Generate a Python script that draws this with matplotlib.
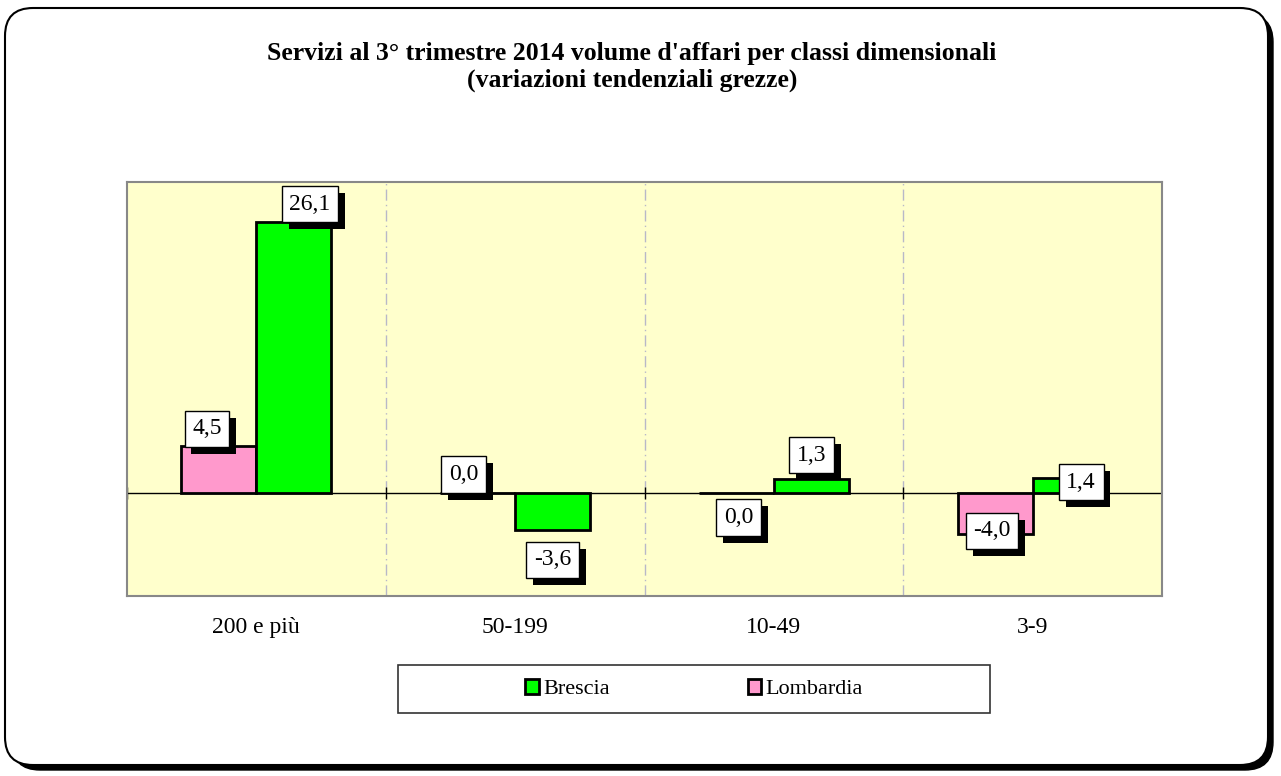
import matplotlib.pyplot as plt
import matplotlib.patheffects as pe
from matplotlib.patches import FancyBboxPatch, Rectangle
import numpy as np

plt.rcParams['font.family'] = ['Liberation Serif', 'DejaVu Serif']

categories = ["200 e più", "50-199", "10-49", "3-9"]
brescia = [26.1, -3.6, 1.3, 1.4]
lombardia = [4.5, 0.0, 0.0, -4.0]

title = "Servizi al 3° trimestre 2014 volume d'affari per classi dimensionali\n(variazioni tendenziali grezze)"

GREEN = "#00FF00"
PINK = "#FF99CC"
BG = "#FFFFCC"

# label offsets in pixels (dx, dy) from the bar end
lomb_off = [(-12, 17), (-14, 18), (2, -25), (-3, 3)]
bres_off = [(16, 18), (0, -30), (0, 24), (11, -4)]

fig = plt.figure(figsize=(12.81, 7.76), dpi=100)

# background frame in pixel coordinates
bg = fig.add_axes([0, 0, 1, 1], zorder=-10)
bg.set_xlim(0, 1281)
bg.set_ylim(776, 0)
bg.axis("off")
shadow = FancyBboxPatch((12, 14), 1261, 756, boxstyle="round,pad=0,rounding_size=28",
                        facecolor="black", edgecolor="black", lw=1)
bg.add_patch(shadow)
frame = FancyBboxPatch((5, 8), 1263, 757, boxstyle="round,pad=0,rounding_size=28",
                       facecolor="white", edgecolor="black", lw=1.5)
bg.add_patch(frame)
# legend box
bg.add_patch(Rectangle((398, 665), 592, 48, facecolor="white", edgecolor="#333333", lw=1.2))

ax = fig.add_axes([127 / 1281, 180 / 776, 1035 / 1281, 414 / 776])
ax.set_facecolor(BG)

x = np.arange(len(categories))
w = 0.29
b1 = ax.bar(x - w / 2, lombardia, w, color=PINK, edgecolor="black", lw=2, label="Lombardia", zorder=3)
b2 = ax.bar(x + w / 2, brescia, w, color=GREEN, edgecolor="black", lw=2, label="Brescia", zorder=3)

ax.axhline(0, color="black", lw=1, zorder=2)
for xb in [0.5, 1.5, 2.5]:
    ax.axvline(xb, color="#B8B8C8", lw=1, ls=(0, (8, 3, 1, 3)), zorder=1)
ax.plot([-0.5, 0.5, 1.5, 2.5, 3.5], [0] * 5, ls="none", marker="|", ms=8, color="black", zorder=2)

ax.set_xlim(-0.5, 3.5)
ax.set_ylim(-10, 30)
ax.set_yticks([])
ax.set_xticks(x)
ax.set_xticklabels(categories, fontsize=17)
ax.tick_params(axis="x", length=0, pad=15)
for s in ax.spines.values():
    s.set_color("#888888")
    s.set_linewidth(1.5)


def label(xv, v, off):
    t = ax.annotate(f"{v:.1f}".replace(".", ","), xy=(xv, v), xytext=off,
                    textcoords="offset pixels", ha="center", va="center",
                    fontsize=17, zorder=5,
                    bbox=dict(boxstyle="square,pad=0.32", facecolor="white", edgecolor="black", lw=1))
    t.get_bbox_patch().set_path_effects([
        pe.SimplePatchShadow(offset=(5, -5), shadow_rgbFace="black", alpha=1.0), pe.Normal()])


for i in range(len(categories)):
    label(x[i] - w / 2, lombardia[i], lomb_off[i])
    label(x[i] + w / 2, brescia[i], bres_off[i])

fig.text(632 / 1281, 1 - 67 / 776, title, ha="center", va="center",
         fontsize=18.5, fontweight="bold", linespacing=1.15)

leg = fig.legend([b2, b1], ["Brescia", "Lombardia"], loc="center",
                 bbox_to_anchor=(694 / 1281, 1 - 689 / 776), ncol=2, frameon=False,
                 fontsize=16, handlelength=0.6, handleheight=0.7, handletextpad=0.2,
                 columnspacing=6.2)

fig.savefig("out.png", dpi=100)
